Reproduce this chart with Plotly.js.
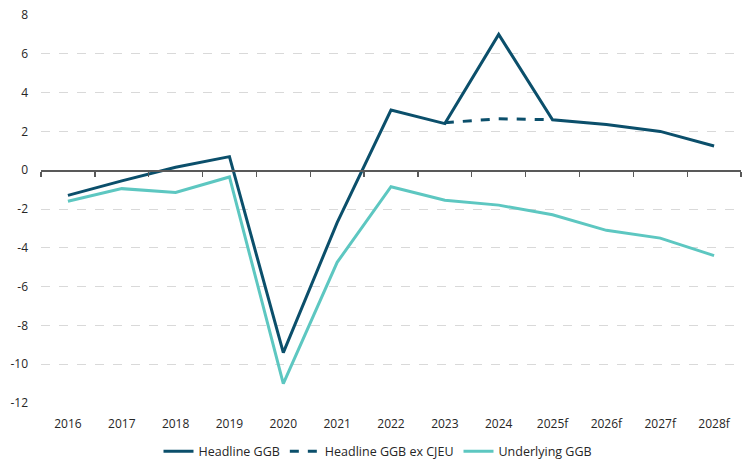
<!DOCTYPE html>
<html>
<head>
<meta charset="utf-8">
<script src="https://cdn.plot.ly/plotly-3.0.1.min.js"></script>
<style>html,body{margin:0;padding:0;background:#fff;}#chart{width:756px;height:473px;}</style>
</head>
<body>
<div id="chart"></div>
<script>
const years = ['2016','2017','2018','2019','2020','2021','2022','2023','2024','2025f','2026f','2027f','2028f'];
const headlineGGB = [-1.3, -0.55, 0.15, 0.7, -9.4, -2.7, 3.1, 2.4, 7.0, 2.6, 2.35, 2.0, 1.25];
const exCJEUYears = ['2023','2024','2025f'];
const headlineExCJEU = [2.45, 2.65, 2.6];
const underlyingGGB = [-1.6, -0.95, -1.15, -0.35, -11.0, -4.75, -0.85, -1.55, -1.8, -2.3, -3.1, -3.5, -4.4];
const yTicks = [8, 6, 4, 2, 0, -2, -4, -6, -8, -10, -12];

const dark = '#0b4f6b';
const light = '#5dc7c1';

const traces = [
  {x: years, y: headlineGGB, name: 'Headline GGB', type: 'scatter', mode: 'lines',
   line: {color: dark, width: 3}},
  {x: exCJEUYears, y: headlineExCJEU, name: 'Headline GGB ex CJEU', type: 'scatter', mode: 'lines',
   line: {color: dark, width: 3, dash: 'dash'}},
  {x: years, y: underlyingGGB, name: 'Underlying GGB', type: 'scatter', mode: 'lines',
   line: {color: light, width: 3}},
  {x: years, y: years.map(() => null), xaxis: 'x2', yaxis: 'y', showlegend: false, hoverinfo: 'skip',
   type: 'scatter', mode: 'lines'}
];

const layout = {
  width: 756, height: 473,
  margin: {l: 41, r: 15, t: 15, b: 70, autoexpand: false},
  paper_bgcolor: '#fff', plot_bgcolor: '#fff',
  font: {family: 'Open Sans, Noto Sans, sans-serif', size: 12, color: '#262626'},
  showlegend: true,
  legend: {orientation: 'h', x: 0.5, xanchor: 'center', xref: 'container', yref: 'container',
           y: 0.045, yanchor: 'middle',
           font: {size: 12.5, color: '#262626'}, traceorder: 'normal', itemwidth: 30},
  xaxis: {type: 'category', categoryarray: years, range: [-0.5, 12.5], automargin: false,
          showgrid: false, showline: false, zeroline: false, ticks: '', ticklabelstandoff: 12,
          tickfont: {size: 12, color: '#262626'}},
  xaxis2: {type: 'category', categoryarray: years, range: [-0.5, 12.5], overlaying: 'x',
           anchor: 'free', position: 0.6, side: 'bottom', automargin: false,
           showgrid: false, zeroline: false, showline: true, linecolor: '#595959', linewidth: 1.3,
           ticks: 'outside', tickson: 'boundaries', ticklen: 5, tickcolor: '#595959', tickwidth: 1.3,
           showticklabels: false},
  yaxis: {range: [-12, 8], tickvals: yTicks, ticktext: yTicks.map(String), automargin: false,
          showgrid: true, gridcolor: '#d9d9d9', griddash: 'dash', gridwidth: 1,
          zeroline: false, showline: false, ticks: '', ticklabelstandoff: 12,
          tickfont: {size: 12, color: '#262626'}}
};

Plotly.newPlot('chart', traces, layout, {displayModeBar: false, staticPlot: true});
</script>
</body>
</html>
